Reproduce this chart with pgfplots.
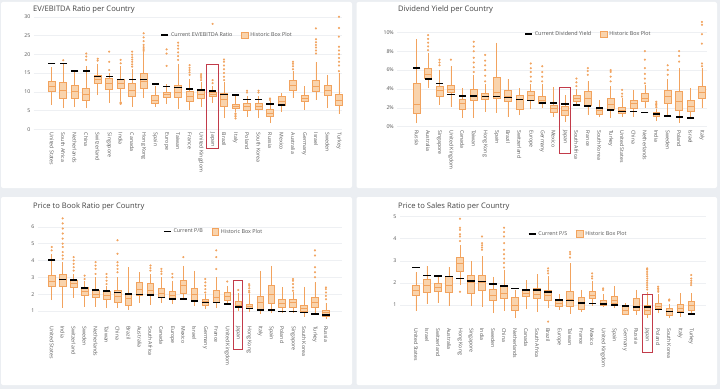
\documentclass[border=0pt]{standalone}
\usepackage{fontspec}
\setmainfont{Open Sans}
\usepackage{pgfplots}
\pgfplotsset{compat=1.18}
\usepgfplotslibrary{statistics}
\definecolor{bgc}{HTML}{EBEEF2}
\definecolor{bor}{HTML}{F2A35E}
\definecolor{bfill}{HTML}{F9D3AC}
\definecolor{gridc}{HTML}{EEF0F3}
\definecolor{zl}{HTML}{A8A8A8}
\definecolor{txt}{HTML}{555555}
\definecolor{ttl}{HTML}{444444}
\definecolor{hl}{HTML}{C23B4A}
\pgfplotsset{
  pnl/.style={
    scale only axis, clip=false, anchor=south west,
    axis line style={draw=none},
    tick style={draw=none},
    ymajorgrids, major grid style={draw=gridc, line width=0.5pt},
    xtick={0,...,25},
    xticklabel style={rotate=-90, anchor=west, font=\fontsize{5.2}{6}\selectfont, text=txt},
    yticklabel style={font=\fontsize{5.2}{6}\selectfont, text=txt},
    legend style={draw=none, fill=none, font=\fontsize{5.4}{6}\selectfont, text=txt,
      legend columns=2, /tikz/every even column/.append style={column sep=7pt},
      anchor=west, inner sep=0pt, cells={anchor=west}},
  },
  bxs/.style={forget plot, draw=bor, fill=bfill, line width=0.6pt, mark=*, mark size=0.9pt,
    mark options={draw=bor, fill=bor, line width=0.3pt}},
  cur/.style={forget plot, only marks, mark=-, mark size=3.6pt, mark options={line width=1.5pt, draw=black}},
}
\newcommand\bx[7]{\addplot[bxs, boxplot prepared={draw direction=y, draw position=#1, lower whisker=#2, lower quartile=#3, median=#4, upper quartile=#5, upper whisker=#6, box extend=0.6, whisker extend=0}] table[row sep=\\, y index=0] {v\\#7};}
\newcommand\bxn[6]{\addplot[bxs, boxplot prepared={draw direction=y, draw position=#1, lower whisker=#2, lower quartile=#3, median=#4, upper quartile=#5, upper whisker=#6, box extend=0.6, whisker extend=0}] coordinates {};}
\newcommand\legs[1]{%
  \addlegendimage{legend image code/.code={\draw[black, line width=1.5pt] (0pt,0pt) -- (7pt,0pt);}}
  \addlegendentry{#1}
  \addlegendimage{legend image code/.code={\draw[bor, fill=bfill, line width=0.6pt] (0pt,-3.2pt) rectangle (6.4pt,3.2pt);}}
  \addlegendentry{Historic Box Plot}}
\begin{document}
\begin{tikzpicture}
\fill[bgc] (0pt,0pt) rectangle (720pt,389pt);
\useasboundingbox (0pt,0pt) rectangle (720pt,389pt);
\fill[white, rounded corners=2pt] (1pt,201pt) rectangle (352pt,387pt);
\fill[white, rounded corners=2pt] (356.5pt,201pt) rectangle (717pt,387pt);
\fill[white, rounded corners=2pt] (1pt,4pt) rectangle (352pt,192pt);
\fill[white, rounded corners=2pt] (356.5pt,4pt) rectangle (717pt,192pt);
\node[anchor=west, font=\fontsize{7.6}{9}\selectfont, text=ttl, inner sep=0pt] at (33pt,379pt) {EV/EBITDA Ratio per Country};
\node[anchor=west, font=\fontsize{7.6}{9}\selectfont, text=ttl, inner sep=0pt] at (398pt,379pt) {Dividend Yield per Country};
\node[anchor=west, font=\fontsize{7.6}{9}\selectfont, text=ttl, inner sep=0pt] at (33pt,182.3pt) {Price to Book Ratio per Country};
\node[anchor=west, font=\fontsize{7.6}{9}\selectfont, text=ttl, inner sep=0pt] at (398pt,182.3pt) {Price to Sales Ratio per Country};

% ---------------- Panel 1: EV/EBITDA
\begin{axis}[pnl, at={(33.9pt,259.7pt)}, width=308.5pt, height=116.3pt,
  xmin=-1.55, xmax=25.3, ymin=0, ymax=31,
  ytick={0,5,10,15,20,25,30}, yticklabels={0,5,10,15,20,25,30},
  extra y ticks={0}, extra y tick labels={}, extra y tick style={grid style={draw=zl, line width=0.9pt}},
  xticklabels={United States,South Africa,Netherlands,China,Switzerland,Singapore,India,Canada,Hong Kong,Spain,Europe,Taiwan,France,United Kingdom,Japan,Brazil,Italy,Poland,South Korea,Russia,Mexico,Australia,Germany,Israel,Sweden,Turkey},
  legend style={at={(0.41,0.81)}}]
\legs{Current EV/EBITDA Ratio}
\bxn{0}{6.5}{10.0}{11.5}{12.8}{16.5}
\bx{1}{5.6}{8.3}{10.5}{12.6}{17.5}{18.4\\}
\bxn{2}{5.9}{8.3}{10.0}{11.7}{15.4}
\bx{3}{5.6}{7.8}{9.2}{10.9}{17.0}{18.5\\19.4\\20.2\\}
\bx{4}{9.1}{12.3}{13.3}{14.3}{17.5}{18.3\\18.8\\}
\bx{5}{7.1}{10.7}{12.3}{13.5}{15.0}{15.8\\18.0\\20.7\\}
\bx{6}{7.6}{10.9}{12.3}{13.3}{17.0}{6.8\\7.0\\7.2\\17.6\\18.5\\}
\bx{7}{6.0}{8.7}{10.5}{12.3}{16.0}{16.7\\17.3\\18.0\\18.6\\19.2\\19.9\\20.7\\}
\bx{8}{8.3}{10.9}{12.7}{14.9}{20.5}{20.9\\21.4\\21.9\\22.5\\23.5\\24.5\\25.6\\}
\bxn{9}{6.0}{6.9}{7.8}{9.1}{11.5}
\bx{10}{6.7}{8.5}{9.3}{9.9}{12.0}{16.9\\20.2\\21.3\\}
\bx{11}{5.3}{8.5}{9.8}{11.8}{17.5}{18.5\\19.5\\20.5\\21.5\\22.3\\23.1\\}
\bx{12}{5.2}{7.4}{8.9}{10.0}{13.5}{14.5\\15.2\\15.8\\16.4\\17.1\\}
\bx{13}{6.0}{8.3}{9.3}{10.3}{12.5}{13.1\\13.7\\14.2\\14.7\\}
\bx{14}{7.1}{8.7}{9.3}{9.8}{11.5}{12.3\\13.1\\28.1\\}
\bx{15}{2.9}{6.0}{8.0}{9.6}{12.5}{13.1\\14.0\\15.0\\16.0\\17.0\\18.0\\18.6\\}
\bx{16}{4.5}{5.6}{6.2}{6.7}{9.0}{2.9\\3.4\\3.8\\4.2\\}
\bx{17}{3.4}{5.0}{6.0}{6.9}{9.0}{9.8\\10.3\\}
\bx{18}{2.9}{5.3}{6.2}{6.9}{9.0}{9.8\\10.3\\}
\bx{19}{1.6}{3.4}{4.3}{5.2}{7.5}{7.8\\8.2\\}
\bxn{20}{4.7}{6.5}{7.4}{8.7}{9.6}
\bx{21}{8.3}{10.5}{11.8}{13.0}{15.5}{16.0\\16.8\\17.5\\18.0\\}
\bxn{22}{5.2}{7.4}{8.2}{9.1}{11.5}
\bx{23}{7.8}{10.0}{11.5}{13.1}{18.0}{20.2\\21.0\\21.8\\22.5\\23.2\\24.0\\26.9\\}
\bxn{24}{5.6}{9.1}{10.5}{11.8}{14.5}
\bx{25}{4.1}{6.5}{7.8}{9.4}{15.0}{15.5\\17.0\\18.0\\19.0\\20.0\\21.0\\22.0\\24.7\\27.0\\30.0\\}
\addplot[cur] coordinates {(0,17.6)(1,17.6)(2,15.6)(3,15.6)(4,14.1)(5,14.1)(6,13.3)(7,13.3)(8,13.3)(9,12.1)(10,11.4)(11,11.2)(12,10.8)(13,10.5)(14,10.2)(15,9.3)(16,9.2)(17,8.0)(18,8.0)(19,6.7)(20,6.5)};
\draw[hl, line width=0.8pt] (axis cs:13.45,-5.2) rectangle (axis cs:14.55,17.3);
\end{axis}

% ---------------- Panel 2: Dividend Yield
\begin{axis}[pnl, at={(397.3pt,262.3pt)}, width=309.2pt, height=111.4pt,
  xmin=-1.7, xmax=25.4, ymin=0, ymax=11.8,
  ytick={0,2,4,6,8,10}, yticklabels={0\%,2\%,4\%,6\%,8\%,10\%},
  extra y ticks={0}, extra y tick labels={}, extra y tick style={grid style={draw=zl, line width=0.9pt}},
  xticklabels={Russia,Australia,Singapore,United Kingdom,Canada,Taiwan,Hong Kong,Spain,Brazil,Switzerland,Europe,Germany,Mexico,Japan,South Africa,France,South Korea,Turkey,United States,China,Netherlands,India,Sweden,Poland,Israel,Italy},
  legend style={at={(0.41,0.83)}}]
\legs{Current Dividend Yield}
\bxn{0}{0.35}{1.4}{2.4}{4.6}{9.3}
\bx{1}{4.1}{5.1}{5.6}{6.2}{7.8}{8.1\\8.5\\8.9\\9.3\\9.7\\}
\bx{2}{2.3}{3.25}{3.9}{4.3}{6.0}{6.5\\6.8\\7.1\\}
\bx{3}{2.1}{3.6}{4.0}{4.4}{6.4}{7.1\\}
\bxn{4}{0.9}{1.8}{2.5}{2.9}{4.1}
\bx{5}{0.9}{2.8}{3.25}{4.0}{5.5}{5.8\\6.3\\6.8\\7.3\\8.0\\8.5\\9.0\\}
\bx{6}{1.6}{2.9}{3.2}{3.5}{4.5}{4.8\\5.4\\6.0\\6.5\\7.0\\7.6\\}
\bxn{7}{1.5}{3.0}{3.6}{5.2}{8.9}
\bxn{8}{1.0}{2.65}{3.2}{3.9}{5.05}
\bxn{9}{1.2}{1.8}{2.9}{3.3}{4.1}
\bx{10}{1.9}{2.8}{3.3}{3.7}{4.5}{4.8\\5.3\\5.8\\6.2\\6.7\\}
\bx{11}{1.95}{2.5}{2.8}{3.25}{4.5}{4.8\\5.3\\5.8\\6.4\\}
\bxn{12}{1.05}{1.5}{1.95}{2.3}{4.2}
\bxn{13}{0.55}{1.25}{1.75}{2.2}{3.35}
\bx{14}{2.3}{2.65}{3.0}{3.35}{4.0}{4.3\\4.7\\5.1\\}
\bx{15}{1.25}{2.3}{3.0}{3.7}{4.8}{5.5\\5.9\\6.2\\}
\bxn{16}{1.0}{1.35}{1.7}{2.1}{2.8}
\bx{17}{0.9}{1.8}{2.4}{3.0}{4.3}{4.8\\5.3\\5.8\\6.0\\}
\bx{18}{1.05}{1.4}{1.75}{2.05}{3.0}{3.2\\3.5\\3.9\\}
\bxn{19}{1.05}{1.95}{2.5}{2.8}{3.9}
\bx{20}{1.95}{2.65}{3.0}{3.5}{4.4}{4.6\\5.1\\5.6\\6.2\\7.1\\8.0\\}
\bx{21}{0.6}{1.05}{1.3}{1.5}{1.9}{2.05\\2.2\\2.35\\2.5\\2.65\\}
\bx{22}{1.25}{2.5}{3.2}{3.9}{5.0}{5.5\\6.0\\6.5\\}
\bx{23}{0.4}{1.75}{2.65}{3.7}{6.2}{6.9\\7.5\\8.0\\}
\bxn{24}{1.05}{1.6}{2.2}{2.8}{4.1}
\bx{25}{1.95}{3.0}{3.6}{4.3}{6.2}{6.4\\6.7\\8.8\\9.8\\10.8\\11.1\\}
\addplot[cur] coordinates {(0,6.2)(1,5.05)(2,4.6)(3,3.4)(4,3.25)(5,3.25)(6,3.2)(7,3.2)(8,3.1)(9,2.9)(10,2.75)(11,2.5)(12,2.5)(13,2.4)(14,2.3)(15,2.2)(16,2.0)(17,1.75)(18,1.6)(19,1.6)(20,1.5)(21,1.35)(22,1.15)(23,1.05)(24,0.9)};
\draw[hl, line width=0.8pt] (axis cs:12.55,-2.8) rectangle (axis cs:13.45,4.2);
\end{axis}

% ---------------- Panel 3: Price to Book
\begin{axis}[pnl, at={(38pt,66.2pt)}, width=304.4pt, height=107.8pt,
  xmin=-1.25, xmax=26.5, ymin=0.3, ymax=6.7,
  ytick={1,2,3,4,5,6}, yticklabels={1,2,3,4,5,6},
  xticklabels={United States,India,Switzerland,Sweden,Netherlands,Taiwan,China,Brazil,Australia,South Africa,Canada,Europe,Mexico,Israel,Germany,France,United Kingdom,Japan,Hong Kong,Italy,Spain,Poland,Singapore,South Korea,Turkey,Russia},
  legend style={at={(0.41,0.845)}}]
\legs{Current P/B}
\bx{0}{1.65}{2.44}{2.78}{3.14}{4.4}{4.6\\4.8\\}
\bx{1}{1.2}{2.44}{2.88}{3.2}{3.9}{4.1\\4.3\\4.5\\4.8\\5.0\\5.3\\5.6\\5.9\\6.2\\6.5\\}
\bx{2}{1.8}{2.38}{2.64}{2.84}{3.2}{3.4\\3.6\\3.8\\4.0\\4.2\\}
\bx{3}{1.25}{1.95}{2.2}{2.38}{2.8}{2.9\\3.1\\}
\bx{4}{1.25}{1.8}{2.0}{2.25}{3.0}{3.2\\3.5\\3.7\\3.9\\}
\bx{5}{1.15}{1.7}{1.95}{2.15}{2.5}{2.6\\2.8\\3.0\\3.2\\}
\bx{6}{1.15}{1.5}{1.9}{2.25}{3.0}{3.3\\3.5\\3.7\\3.9\\4.4\\5.2\\}
\bxn{7}{1.05}{1.36}{1.75}{2.05}{3.6}
\bxn{8}{1.5}{1.95}{2.3}{2.7}{3.3}
\bx{9}{1.36}{1.95}{2.25}{2.64}{3.2}{3.4\\3.55\\3.7\\}
\bx{10}{1.45}{1.8}{2.05}{2.35}{3.0}{3.2\\3.35\\3.5\\}
\bx{11}{1.4}{1.7}{1.95}{2.2}{2.8}{3.0\\3.2\\}
\bx{12}{1.8}{2.05}{2.5}{2.84}{3.7}{4.2\\}
\bxn{13}{1.3}{1.65}{2.0}{2.35}{3.4}
\bx{14}{1.1}{1.36}{1.55}{1.7}{2.0}{2.1\\2.3\\2.5\\2.7\\2.9\\}
\bx{15}{1.15}{1.5}{1.8}{2.25}{3.0}{3.5\\4.2\\4.6\\}
\bx{16}{1.36}{1.65}{1.85}{2.1}{2.5}{2.75\\}
\bx{17}{1.0}{1.25}{1.36}{1.55}{2.05}{2.25\\}
\bx{18}{0.96}{1.15}{1.3}{1.4}{2.0}{2.1\\2.2\\2.35\\2.5\\2.6\\}
\bxn{19}{0.82}{1.1}{1.5}{1.9}{3.4}
\bxn{20}{0.86}{1.45}{2.0}{2.55}{3.7}
\bxn{21}{0.86}{1.2}{1.45}{1.7}{2.4}
\bx{22}{0.9}{1.25}{1.5}{1.7}{2.1}{2.2\\2.4\\2.6\\2.8\\2.9\\}
\bxn{23}{0.66}{0.96}{1.15}{1.36}{2.45}
\bx{24}{0.86}{1.2}{1.5}{1.8}{2.7}{3.0\\3.3\\3.6\\4.3\\4.6\\}
\bx{25}{0.5}{0.7}{0.9}{1.06}{1.5}{1.7\\1.9\\2.1\\2.3\\2.4\\}
\addplot[cur] coordinates {(0,4.03)(1,2.88)(2,2.84)(3,2.38)(4,2.25)(5,2.19)(6,2.11)(7,2.0)(8,1.97)(9,1.95)(10,1.8)(11,1.7)(12,1.7)(13,1.6)(14,1.5)(15,1.5)(16,1.42)(17,1.25)(18,1.15)(19,1.06)(20,1.06)(21,0.96)(22,0.96)(23,0.9)(24,0.82)(25,0.76)};
\draw[hl, line width=0.8pt] (axis cs:16.6,-1.26) rectangle (axis cs:17.4,2.84);
\end{axis}

% ---------------- Panel 4: Price to Sales
\begin{axis}[pnl, at={(400pt,64.1pt)}, width=305.5pt, height=112.7pt,
  xmin=-1.45, xmax=26.3, ymin=0.1, ymax=5.2,
  ytick={1,2,3,4,5}, yticklabels={1,2,3,4,5},
  xticklabels={United States,Israel,Switzerland,Australia,Hong Kong,Singapore,India,Sweden,China,Netherlands,Canada,South Africa,Brazil,Europe,Taiwan,France,Mexico,United Kingdom,Spain,Germany,Russia,Japan,Poland,South Korea,Italy,Turkey},
  legend style={at={(0.418,0.807)}}]
\legs{Current P/S}
\bxn{0}{0.74}{1.45}{1.65}{1.87}{2.48}
\bxn{1}{1.05}{1.56}{1.9}{2.18}{2.78}
\bxn{2}{1.1}{1.6}{1.8}{1.98}{2.35}
\bxn{3}{0.95}{1.56}{1.9}{2.28}{2.73}
\bx{4}{1.9}{2.54}{2.9}{3.14}{3.7}{1.6\\3.9\\4.1\\4.2\\4.4\\4.5\\4.9\\}
\bxn{5}{0.95}{1.53}{2.03}{2.33}{3.0}
\bx{6}{0.92}{1.68}{2.03}{2.33}{3.2}{3.5\\3.6\\3.7\\3.8\\4.1\\}
\bxn{7}{0.62}{1.23}{1.45}{1.72}{2.28}
\bx{8}{0.74}{1.3}{1.55}{1.83}{2.6}{2.7\\2.9\\3.1\\3.3\\3.5\\3.8\\4.1\\4.3\\4.5\\}
\bxn{9}{0.4}{0.74}{1.0}{1.35}{1.68}
\bxn{10}{0.8}{1.38}{1.55}{1.68}{2.13}
\bxn{11}{0.7}{1.3}{1.5}{1.75}{2.39}
\bx{12}{0.85}{1.23}{1.45}{1.68}{2.3}{0.25\\2.43\\2.55\\2.66\\}
\bxn{13}{0.77}{0.95}{1.1}{1.26}{1.5}
\bx{14}{0.6}{0.95}{1.26}{1.6}{2.9}{3.15\\3.3\\3.4\\}
\bxn{15}{0.7}{0.8}{1.07}{1.35}{1.68}
\bx{16}{0.95}{1.3}{1.45}{1.63}{2.1}{2.2\\2.3\\2.43\\}
\bx{17}{0.9}{1.0}{1.1}{1.23}{1.5}{1.68\\1.75\\}
\bxn{18}{0.85}{1.07}{1.23}{1.4}{1.87}
\bxn{19}{0.55}{0.6}{0.77}{0.92}{1.1}
\bxn{20}{0.55}{0.77}{0.92}{1.3}{1.68}
\bx{21}{0.4}{0.6}{0.77}{1.0}{1.6}{1.7\\1.8\\1.9\\2.0\\2.1\\2.2\\2.3\\2.4\\2.5\\2.6\\2.66\\}
\bx{22}{0.62}{0.85}{0.95}{1.1}{1.5}{1.6\\1.68\\1.75\\1.83\\}
\bx{23}{0.4}{0.55}{0.7}{0.85}{1.05}{1.2\\1.25\\}
\bxn{24}{0.47}{0.7}{0.85}{1.05}{1.53}
\bx{25}{0.55}{0.77}{1.0}{1.15}{1.53}{1.9\\2.0\\2.1\\2.2\\2.36\\}
\addplot[cur] coordinates {(0,2.69)(1,2.33)(2,2.31)(3,2.28)(4,2.2)(5,2.09)(6,2.06)(7,1.94)(8,1.87)(9,1.75)(10,1.68)(11,1.68)(12,1.6)(13,1.23)(14,1.2)(15,1.1)(16,1.07)(17,1.05)(18,1.0)(19,0.95)(20,0.9)(21,0.9)(22,0.8)(23,0.7)(24,0.65)(25,0.6)};
\draw[hl, line width=0.8pt] (axis cs:20.55,-1.16) rectangle (axis cs:21.45,1.5);
\end{axis}
\end{tikzpicture}
\end{document}
